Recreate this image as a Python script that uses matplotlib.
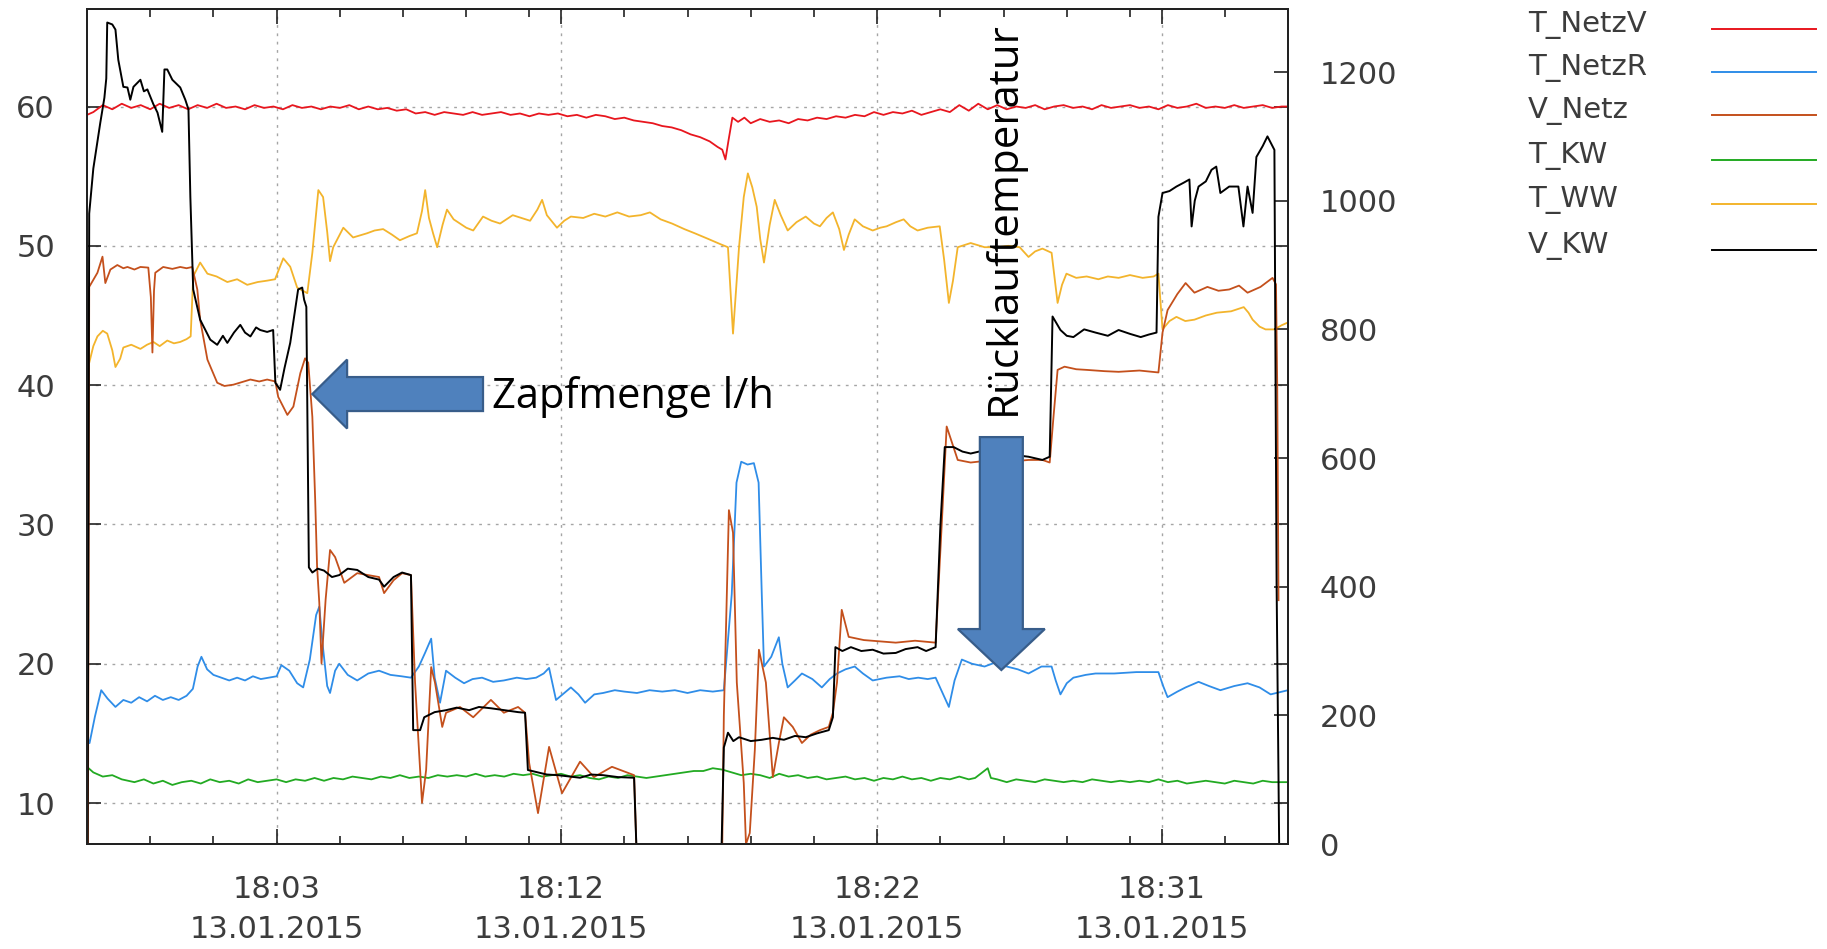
import numpy as np
import matplotlib
matplotlib.use("Agg")
import matplotlib.pyplot as plt
from matplotlib.patches import FancyArrow
from matplotlib.lines import Line2D

# ---------------- data (time = minutes after 18:00, 13.01.2015) ----------------
X_MAJOR = [3, 12, 22, 31]
X_LABELS = ["18:03\n13.01.2015", "18:12\n13.01.2015", "18:22\n13.01.2015", "18:31\n13.01.2015"]
X_MINOR = [-1, 1, 5, 7, 9, 11, 14, 16, 18, 20, 24, 26, 28, 30, 33]
Y_LEFT_TICKS = [10, 20, 30, 40, 50, 60]
Y_RIGHT_TICKS = [0, 200, 400, 600, 800, 1000, 1200]

LEGEND_LABELS = ["T_NetzV", "T_NetzR", "V_Netz", "T_KW", "T_WW", "V_KW"]
COLORS = ["#e8161e", "#2f8de8", "#c4501c", "#22aa22", "#f3b42c", "#000000"]

# temperatures (left axis, deg C)
T_NETZV = [(-3.0,59.4),(-2.8,59.6),(-2.5,60.1),(-2.2,59.8),(-1.9,60.2),(-1.6,59.9),(-1.3,60.1),(-1.0,59.8),
           (-0.7,60.2),(-0.4,59.9),(-0.1,60.1),(0.2,59.8),(0.5,60.1),(0.8,59.9),(1.1,60.2),(1.4,59.9),(1.7,60.0),
           (2.0,59.8),(2.3,60.1),(2.6,59.9),(2.9,60.0),(3.2,59.8),(3.5,60.1),(3.8,59.9),(4.1,60.0),(4.4,59.8),
           (4.7,60.0),(5.0,59.9),(5.3,60.1),(5.6,59.8),(5.9,60.0),(6.2,59.8),(6.5,59.9),(6.8,59.7),(7.1,59.8),
           (7.4,59.5),(7.7,59.6),(8.0,59.4),(8.3,59.6),(8.6,59.5),(8.9,59.4),(9.2,59.6),(9.5,59.4),(9.8,59.5),
           (10.1,59.6),(10.4,59.4),(10.7,59.5),(11.0,59.3),(11.3,59.5),(11.6,59.4),(11.9,59.5),(12.2,59.3),
           (12.5,59.4),(12.8,59.2),(13.1,59.4),(13.4,59.3),(13.7,59.1),(14.0,59.2),(14.3,59.0),(14.6,58.9),
           (14.9,58.8),(15.2,58.6),(15.5,58.5),(15.8,58.3),(16.1,58.0),(16.4,57.8),(16.7,57.5),(16.95,57.1),
           (17.1,56.9),(17.2,56.2),(17.3,57.6),(17.42,59.2),(17.6,58.9),(17.8,59.2),(18.0,58.8),(18.3,59.1),
           (18.6,58.9),(18.9,59.0),(19.2,58.8),(19.5,59.1),(19.8,59.0),(20.1,59.2),(20.4,59.1),(20.7,59.3),
           (21.0,59.2),(21.3,59.4),(21.6,59.3),(21.9,59.6),(22.2,59.4),(22.5,59.6),(22.8,59.5),(23.1,59.7),
           (23.4,59.4),(23.7,59.6),(24.0,59.8),(24.3,59.6),(24.6,60.1),(24.9,59.7),(25.2,60.2),(25.5,59.8),
           (25.8,60.1),(26.1,59.8),(26.4,60.0),(26.7,59.9),(27.0,60.1),(27.3,59.8),(27.6,60.0),(27.9,60.1),
           (28.2,59.9),(28.5,60.0),(28.8,59.8),(29.1,60.1),(29.4,59.9),(29.7,60.0),(30.0,60.1),(30.3,59.9),
           (30.6,60.0),(30.9,59.8),(31.2,60.1),(31.5,59.9),(31.8,60.0),(32.1,60.2),(32.4,59.9),(32.7,60.0),
           (33.0,59.9),(33.3,60.1),(33.6,59.9),(33.9,60.0),(34.2,60.1),(34.5,59.9),(34.8,60.0),(35.0,60.0)]

T_NETZR = [(-3.0,14.8),(-2.92,14.3),(-2.75,16.2),(-2.55,18.1),(-2.35,17.5),(-2.1,16.9),(-1.85,17.4),(-1.6,17.2),
           (-1.35,17.6),(-1.1,17.3),(-0.85,17.7),(-0.6,17.4),(-0.35,17.6),(-0.1,17.4),(0.15,17.7),(0.35,18.2),
           (0.5,19.8),(0.62,20.5),(0.8,19.6),(1.0,19.2),(1.25,19.0),(1.5,18.8),(1.75,19.0),(2.0,18.8),(2.25,19.1),
           (2.5,18.9),(2.75,19.0),(3.0,19.1),(3.15,19.9),(3.4,19.5),(3.65,18.6),(3.84,18.3),(4.05,20.3),(4.25,23.5),
           (4.35,24.1),(4.45,21.5),(4.6,18.4),(4.69,17.9),(4.85,19.5),(4.98,20.0),(5.25,19.2),(5.55,18.8),
           (5.9,19.3),(6.24,19.5),(6.6,19.2),(6.95,19.1),(7.25,19.0),(7.5,19.8),(7.7,20.8),(7.89,21.8),(8.0,19.0),
           (8.17,17.2),(8.36,19.5),(8.65,19.0),(8.93,18.6),(9.2,18.9),(9.5,19.0),(9.85,18.7),(10.19,18.8),
           (10.6,19.0),(10.9,18.9),(11.21,19.0),(11.45,19.3),(11.62,19.7),(11.84,17.4),(12.1,17.9),(12.31,18.3),
           (12.55,17.8),(12.76,17.2),(13.05,17.8),(13.33,17.9),(13.7,18.1),(14.0,18.0),(14.4,17.9),(14.8,18.1),
           (15.2,18.0),(15.6,18.1),(16.0,17.9),(16.4,18.1),(16.8,18.0),(17.15,18.1),(17.4,25.0),(17.55,33.0),
           (17.7,34.5),(17.9,34.3),(18.1,34.4),(18.25,33.0),(18.35,25.0),(18.42,19.8),(18.65,20.5),(18.89,21.9),
           (19.0,20.0),(19.17,18.3),(19.4,18.8),(19.62,19.3),(19.95,18.9),(20.25,18.3),(20.5,18.9),(20.73,19.3),
           (21.0,19.6),(21.29,19.8),(21.55,19.3),(21.86,18.8),(22.3,19.0),(22.71,19.1),(23.0,18.9),(23.3,19.0),
           (23.6,18.9),(23.85,19.0),(24.05,18.0),(24.27,16.9),(24.45,18.8),(24.68,20.3),(25.0,20.0),(25.4,19.8),
           (25.75,20.1),(26.1,19.8),(26.45,19.6),(26.79,19.3),(27.2,19.8),(27.52,19.8),(27.65,18.8),(27.8,17.8),
           (28.0,18.6),(28.21,19.0),(28.6,19.2),(28.91,19.3),(29.5,19.3),(30.2,19.4),(30.9,19.4),(31.05,18.4),
           (31.19,17.6),(31.5,18.0),(31.76,18.3),(32.17,18.7),(32.5,18.4),(32.86,18.1),(33.3,18.4),(33.72,18.6),
           (34.1,18.3),(34.45,17.8),(35.0,18.1)]

T_KW = [(-3.0,12.6),(-2.8,12.2),(-2.5,11.9),(-2.2,12.0),(-1.9,11.7),(-1.5,11.5),(-1.2,11.7),(-0.9,11.4),
        (-0.6,11.6),(-0.3,11.3),(0.0,11.5),(0.3,11.6),(0.6,11.4),(0.9,11.7),(1.2,11.5),(1.5,11.6),(1.8,11.4),
        (2.1,11.7),(2.4,11.5),(2.7,11.6),(3.0,11.7),(3.3,11.5),(3.6,11.7),(3.9,11.6),(4.2,11.8),(4.5,11.6),
        (4.8,11.8),(5.1,11.7),(5.4,11.9),(5.7,11.8),(6.0,11.7),(6.3,11.9),(6.6,11.8),(6.9,12.0),(7.2,11.8),
        (7.5,11.9),(7.8,11.8),(8.1,12.0),(8.4,11.9),(8.7,12.0),(9.0,11.9),(9.3,12.1),(9.6,11.9),(9.9,12.0),
        (10.2,11.9),(10.5,12.1),(10.8,12.0),(11.1,12.1),(11.4,11.9),(11.7,12.0),(12.0,12.1),(12.3,11.9),
        (12.6,12.0),(12.9,11.8),(13.2,11.7),(13.5,11.9),(13.8,11.8),(14.1,12.0),(14.4,11.9),(14.7,11.8),
        (15.0,11.9),(15.3,12.0),(15.6,12.1),(15.9,12.2),(16.2,12.3),(16.5,12.3),(16.8,12.5),(17.1,12.4),
        (17.4,12.2),(17.7,12.0),(18.0,12.1),(18.3,12.0),(18.6,11.8),(18.9,12.1),(19.2,11.9),(19.5,12.0),
        (19.8,11.8),(20.1,11.9),(20.4,11.7),(20.7,11.8),(21.0,11.9),(21.3,11.7),(21.6,11.8),(21.9,11.6),
        (22.2,11.8),(22.5,11.7),(22.8,11.9),(23.1,11.7),(23.4,11.8),(23.7,11.6),(24.0,11.8),(24.3,11.7),
        (24.6,11.9),(24.9,11.7),(25.1,11.8),(25.5,12.5),(25.6,11.8),(25.8,11.7),(26.1,11.5),(26.4,11.7),
        (26.7,11.6),(27.0,11.5),(27.3,11.7),(27.6,11.6),(27.9,11.5),(28.2,11.6),(28.5,11.5),(28.8,11.7),
        (29.1,11.6),(29.4,11.5),(29.7,11.6),(30.0,11.5),(30.3,11.6),(30.6,11.5),(30.9,11.7),(31.2,11.5),
        (31.5,11.6),(31.8,11.4),(32.1,11.5),(32.4,11.6),(32.7,11.5),(33.0,11.4),(33.3,11.6),(33.6,11.5),
        (33.9,11.4),(34.2,11.6),(34.5,11.5),(35.0,11.5)]

T_WW = [(-3.0,44.8),(-2.93,41.6),(-2.8,42.8),(-2.67,43.5),(-2.5,43.9),(-2.36,43.7),(-2.2,42.5),(-2.1,41.3),
        (-1.95,41.9),(-1.85,42.7),(-1.6,42.9),(-1.31,42.6),(-1.1,42.9),(-0.9,43.1),(-0.7,42.8),(-0.46,43.2),
        (-0.25,43.0),(-0.05,43.1),(0.15,43.3),(0.28,43.5),(0.36,47.8),(0.58,48.8),(0.81,48.0),(1.1,47.8),
        (1.44,47.4),(1.75,47.6),(2.07,47.2),(2.4,47.4),(2.7,47.5),(2.95,47.6),(3.21,49.1),(3.43,48.5),(3.65,47.0),
        (3.97,46.6),(4.13,49.5),(4.32,54.0),(4.47,53.5),(4.6,51.0),(4.69,48.9),(4.79,49.9),(5.11,51.3),
        (5.42,50.6),(5.86,50.9),(6.1,51.1),(6.37,51.2),(6.65,50.8),(6.9,50.4),(7.2,50.7),(7.44,50.9),(7.6,52.5),
        (7.7,54.0),(7.82,52.0),(7.95,50.9),(8.08,49.9),(8.25,51.5),(8.39,52.6),(8.6,51.9),(8.8,51.6),(9.0,51.3),
        (9.22,51.1),(9.53,52.1),(9.8,51.8),(10.07,51.6),(10.47,52.2),(11.02,51.8),(11.25,52.6),(11.4,53.3),
        (11.55,52.2),(11.87,51.3),(12.1,51.8),(12.31,52.1),(12.7,52.0),(13.05,52.3),(13.4,52.1),(13.78,52.4),
        (14.15,52.1),(14.52,52.2),(14.81,52.4),(15.15,51.9),(15.51,51.6),(15.9,51.2),(16.23,50.9),(16.65,50.5),
        (17.06,50.1),(17.28,49.9),(17.44,43.7),(17.63,49.9),(17.78,53.5),(17.91,55.2),(18.05,54.2),(18.19,52.8),
        (18.3,50.5),(18.42,48.8),(18.6,51.5),(18.76,53.3),(18.95,52.2),(19.17,51.1),(19.45,51.7),(19.74,52.1),
        (20.0,51.6),(20.19,51.4),(20.4,52.0),(20.6,52.4),(20.8,51.2),(20.95,49.7),(21.1,50.8),(21.29,51.9),
        (21.55,51.4),(21.86,51.1),(22.1,51.3),(22.3,51.4),(22.6,51.7),(22.84,51.9),(23.05,51.4),(23.28,51.1),
        (23.6,51.3),(23.98,51.4),(24.12,49.0),(24.27,45.9),(24.4,47.5),(24.55,49.9),(24.96,50.2),(25.4,49.9),
        (25.81,49.9),(26.15,50.0),(26.51,49.9),(26.79,49.2),(27.0,49.6),(27.23,49.8),(27.52,49.5),(27.6,48.0),
        (27.71,45.9),(27.85,47.2),(27.99,48.0),(28.3,47.7),(28.63,47.8),(29.0,47.6),(29.3,47.8),(29.64,47.7),
        (30.0,47.9),(30.4,47.7),(30.75,47.8),(30.9,48.0),(31.03,44.0),(31.25,44.6),(31.47,44.9),(31.75,44.6),
        (32.04,44.7),(32.4,45.0),(32.75,45.2),(33.2,45.3),(33.6,45.6),(33.75,45.2),(33.88,44.7),(34.1,44.2),
        (34.29,44.0),(34.57,44.0),(34.8,44.3),(35.0,44.5)]

# flows (right axis, l/h)
V_NETZ = [(-2.97,0),(-2.93,866),(-2.67,888),(-2.51,913),(-2.42,872),(-2.26,893),(-2.04,900),(-1.85,895),
          (-1.72,897),(-1.5,893),(-1.31,897),(-1.06,896),(-0.98,850),(-0.93,764),(-0.88,860),(-0.84,888),
          (-0.59,897),(-0.3,894),(-0.05,897),(0.15,895),(0.33,897),(0.49,862),(0.58,815),(0.81,753),(1.12,717),
          (1.35,712),(1.63,714),(1.9,718),(2.17,722),(2.45,719),(2.7,722),(2.96,719),(3.05,695),(3.34,667),
          (3.53,680),(3.75,732),(3.9,755),(4.0,748),(4.13,664),(4.22,535),(4.28,431),(4.35,375),(4.42,281),
          (4.55,380),(4.69,457),(4.85,446),(5.14,406),(5.55,421),(5.9,418),(6.24,415),(6.4,390),(6.7,410),
          (6.97,421),(7.25,418),(7.38,251),(7.6,64),(7.73,115),(7.89,275),(8.01,251),(8.24,182),(8.36,204),
          (8.8,213),(9.22,197),(9.78,224),(10.19,204),(10.64,213),(10.86,204),(10.99,126),(11.27,48),
          (11.62,151),(12.03,79),(12.6,128),(13.04,104),(13.61,120),(14.31,107),(14.38,0),(17.1,0),(17.15,200),
          (17.31,519),(17.44,484),(17.56,251),(17.78,95),(17.85,0),(17.97,17),(18.13,146),(18.26,302),
          (18.48,251),(18.7,104),(18.89,157),(19.05,197),(19.33,182),(19.62,157),(19.9,170),(20.19,177),
          (20.47,182),(20.6,204),(20.73,251),(20.88,364),(21.1,322),(21.58,317),(22.1,315),(22.59,313),
          (23.2,316),(23.85,313),(24.04,493),(24.2,649),(24.55,597),(24.96,593),(25.5,596),(26.1,594),
          (26.79,597),(27.23,597),(27.46,593),(27.58,664),(27.71,737),(27.93,742),(28.3,738),(28.63,737),
          (29.2,735),(29.64,734),(30.3,736),(30.9,733),(31.03,795),(31.19,830),(31.5,855),(31.76,872),
          (32.04,857),(32.45,866),(32.8,860),(33.14,862),(33.45,868),(33.72,857),(34.13,866),(34.51,880),
          (34.62,870),(34.66,709),(34.7,379)]

V_KW = [(-2.98,0),(-2.93,980),(-2.8,1050),(-2.58,1121),(-2.45,1160),(-2.39,1190),(-2.36,1277),(-2.2,1274),
        (-2.1,1266),(-2.01,1219),(-1.85,1177),(-1.72,1176),(-1.63,1157),(-1.53,1177),(-1.31,1188),(-1.2,1170),
        (-1.09,1173),(-0.9,1150),(-0.77,1137),(-0.62,1107),(-0.55,1204),(-0.46,1204),(-0.3,1188),(-0.05,1176),
        (0.11,1157),(0.21,1142),(0.27,1006),(0.36,862),(0.58,815),(0.9,784),(1.12,776),(1.3,790),(1.44,779),
        (1.65,795),(1.85,807),(2.0,795),(2.17,789),(2.35,803),(2.48,799),(2.7,796),(2.89,799),(2.96,717),
        (3.11,706),(3.25,740),(3.43,779),(3.68,862),(3.81,865),(3.87,846),(3.94,835),(4.02,430),(4.13,422),
        (4.3,428),(4.5,425),(4.75,415),(4.98,418),(5.25,428),(5.55,426),(5.9,415),(6.24,411),(6.4,400),
        (6.7,415),(6.97,422),(7.25,418),(7.32,177),(7.54,177),(7.67,197),(8.0,205),(8.36,208),(8.7,212),
        (9.09,208),(9.4,213),(9.78,211),(10.2,208),(10.64,205),(10.86,204),(10.95,115),(11.21,112),
        (11.55,108),(11.9,107),(12.25,105),(12.6,103),(12.95,108),(13.33,107),(13.8,104),(14.31,103),
        (14.38,0),(17.08,0),(17.15,150),(17.22,162),(17.28,173),(17.45,160),(17.63,166),(18.0,160),
        (18.35,162),(18.7,165),(19.05,162),(19.4,168),(19.74,166),(20.1,172),(20.47,177),(20.6,197),
        (20.68,306),(20.9,300),(21.17,306),(21.5,300),(21.86,302),(22.2,296),(22.59,297),(22.9,303),
        (23.28,306),(23.55,300),(23.85,306),(24.0,493),(24.14,617),(24.42,617),(24.7,610),(24.96,607),
        (25.4,612),(25.81,607),(26.3,605),(26.79,602),(27.23,597),(27.46,602),(27.55,820),(27.8,799),
        (28.0,790),(28.21,788),(28.55,800),(28.91,795),(29.3,790),(29.64,799),(30.0,793),(30.34,788),
        (30.6,792),(30.84,795),(30.9,975),(31.03,1012),(31.25,1015),(31.47,1022),(31.7,1028),(31.88,1033),
        (31.95,960),(32.05,1000),(32.17,1022),(32.4,1030),(32.58,1048),(32.73,1053),(32.86,1012),(33.14,1022),
        (33.43,1022),(33.59,960),(33.72,1022),(33.88,981),(34.0,1068),(34.2,1085),(34.35,1100),(34.57,1079),
        (34.64,400),(34.72,0)]

# ---------------- figure ----------------
W, H, DPI = 1827, 949, 100
L, R, T, B = 87, 1288, 9, 844
fig = plt.figure(figsize=(W / DPI, H / DPI), dpi=DPI)
fig.patch.set_facecolor("white")
ax = fig.add_axes([L / W, 1 - B / H, (R - L) / W, (B - T) / H])
ax2 = ax.twinx()

def xy(series):
    a = np.array(series, dtype=float)
    return a[:, 0], a[:, 1]

left_series = [(T_NETZV, 0), (T_NETZR, 1), (T_KW, 3), (T_WW, 4)]
right_series = [(V_NETZ, 2), (V_KW, 5)]
for s, ci in left_series:
    x, y = xy(s)
    ax.plot(x, y, color=COLORS[ci], lw=1.3, solid_joinstyle="round")
for s, ci in right_series:
    x, y = xy(s)
    ax2.plot(x, y, color=COLORS[ci], lw=1.4 if ci == 5 else 1.3, solid_joinstyle="round")

ax.set_xlim(-3.0, 35.0)
ax.set_ylim(7.06, 67.0)
ax2.set_ylim(0, 1298)

TICK_COLOR = "#3c3c3c"
ax.set_xticks(X_MAJOR)
ax.set_xticklabels(X_LABELS)
ax.set_xticks(X_MINOR, minor=True)
ax.set_yticks(Y_LEFT_TICKS)
ax.set_yticklabels([str(v) for v in Y_LEFT_TICKS])
ax2.set_yticks(Y_RIGHT_TICKS)
ax2.set_yticklabels([str(v) for v in Y_RIGHT_TICKS])

ax.tick_params(axis="both", which="both", direction="in", top=True, right=True,
               colors="#222222", labelcolor=TICK_COLOR, labelsize=22, width=1.2)
ax.tick_params(axis="y", which="major", length=10, pad=23)
ax.tick_params(axis="x", which="major", length=11, pad=22)
ax.tick_params(axis="x", which="minor", length=6)
ax2.tick_params(axis="y", direction="in", length=10, width=1.2, pad=23,
                colors="#222222", labelcolor=TICK_COLOR, labelsize=22)
for lab in ax.get_xticklabels():
    lab.set_linespacing(1.5)

ax.grid(True, which="major", linestyle=(0, (2, 4)), color="#a5a5a5", lw=1.0)
for a in (ax, ax2):
    for sp in a.spines.values():
        sp.set_linewidth(1.4)
        sp.set_color("#222222")

# ---------------- annotations ----------------
ARROW_FC, ARROW_EC = "#4f81bd", "#385d8a"
arr1 = FancyArrow(9.53, 39.36, -5.40, 0, width=2.44, head_width=4.95, head_length=1.10,
                  length_includes_head=True, fc=ARROW_FC, ec=ARROW_EC, lw=1.6,
                  transform=ax.transData, zorder=10)
arr2 = FancyArrow(25.93, 36.27, 0, -16.72, width=1.36, head_width=2.75, head_length=2.94,
                  length_includes_head=True, fc=ARROW_FC, ec=ARROW_EC, lw=1.6,
                  transform=ax.transData, zorder=10)
ax2.add_patch(arr1)
ax2.add_patch(arr2)
ax2.text(9.82, 38.36, "Zapfmenge l/h", transform=ax.transData, fontsize=30,
         family="Open Sans", ha="left", va="baseline", color="black", zorder=11)
ax2.text(26.35, 37.85, "Rücklauftemperatur", transform=ax.transData, fontsize=30.3,
         family="Open Sans", rotation=90, rotation_mode="anchor", ha="left", va="baseline",
         color="black", zorder=11)
ax2.set_ylim(0, 1298)
ax.set_xlim(-3.0, 35.0)

# ---------------- legend (drawn at the right) ----------------
leg_baselines = [32, 75, 118, 163, 207, 253]
for lab, col, yb in zip(LEGEND_LABELS, COLORS, leg_baselines):
    fig.text(1528 / W, 1 - yb / H, lab, fontsize=21, color=TICK_COLOR, ha="left", va="baseline")
    yl = 1 - (yb - 3) / H
    fig.add_artist(Line2D([1712 / W, 1816 / W], [yl, yl], transform=fig.transFigure,
                          color=col, lw=1.4))

fig.savefig("out.png", dpi=DPI, facecolor="white")
